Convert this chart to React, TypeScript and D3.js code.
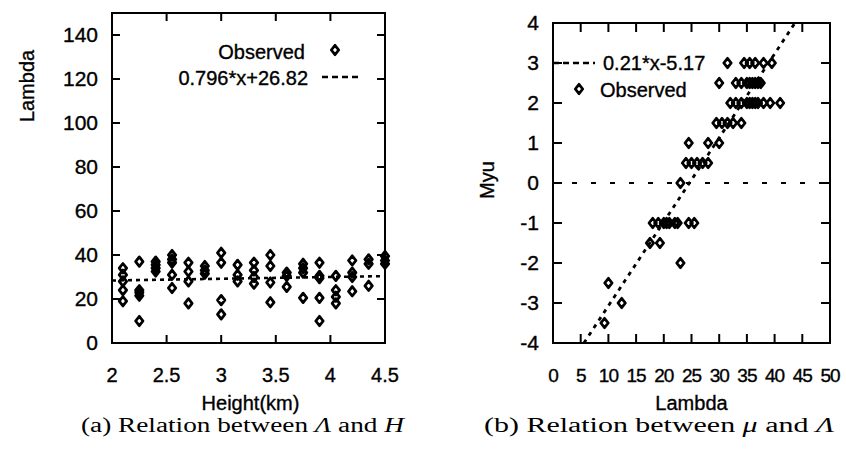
import React from 'react';
import * as d3 from 'd3';

// ---------- Panel (a): Lambda vs Height ----------
const heightsA = [2.1, 2.25, 2.4, 2.55, 2.7, 2.85, 3.0, 3.15, 3.3, 3.45, 3.6, 3.75, 3.9, 4.05, 4.2, 4.35, 4.5];
const lambdaAtHeight = [
  [34, 31, 28, 24, 19],
  [37, 24, 23, 21.5, 10],
  [37, 35.5, 34, 32.5],
  [40, 38, 36.5, 31, 25],
  [36.5, 32.5, 28, 18],
  [35, 33, 31.5],
  [41, 36.5, 19.5, 13],
  [35.5, 31, 28],
  [36.5, 33, 30, 27],
  [40, 35, 27.5, 18.5],
  [32, 30.5, 25.5],
  [36, 34, 32, 20.5],
  [36.5, 30.5, 29.5, 20.5, 10],
  [30.5, 24, 21, 18],
  [37.5, 32, 30, 23.5],
  [38, 36, 26],
  [39.5, 37.5, 36],
];
const fitA = { slope: 0.796, intercept: 26.82, label: '0.796*x+26.82' };
const xTicksA = [2, 2.5, 3, 3.5, 4, 4.5];
const xTickLabelsA = ['2', '2.5', '3', '3.5', '4', '4.5'];
const yTicksA = [0, 20, 40, 60, 80, 100, 120, 140];

// ---------- Panel (b): Myu vs Lambda ----------
const muLevels = [3, 2.5, 2, 1.5, 1, 0.5, 0, -1, -1.5, -2, -2.5, -3, -3.5];
const lambdaAtMu = [
  [31.5, 34.5, 35.5, 36.5, 38, 39.5],
  [30, 33, 34, 35, 35.5, 36, 36.5, 37, 37.5],
  [32, 33, 34, 35, 35.5, 36, 36.5, 37, 38, 39.2, 41],
  [29.5, 30.5, 31.5, 32.5, 34],
  [24.5, 28, 30],
  [24, 25, 26, 27, 28],
  [23],
  [18, 19, 20, 20.5, 21, 22, 22.5, 24.5, 25.5],
  [17.5, 19.3],
  [23],
  [10],
  [12.4],
  [9.3],
];
const fitB = { slope: 0.21, intercept: -5.17, label: '0.21*x-5.17' };
const xTicksB = [0, 5, 10, 15, 20, 25, 30, 35, 40, 45, 50];
const yTicksB = [-4, -3, -2, -1, 0, 1, 2, 3, 4];

const FONT = '"Liberation Sans", Arial, Helvetica, sans-serif';
const SERIF = '"Liberation Serif", "DejaVu Serif", serif';

function Diamond({ x, y }: { x: number; y: number }) {
  const w = 3.7, h = 4.7;
  return (
    <path
      d={`M${x},${y - h}L${x + w},${y}L${x},${y + h}L${x - w},${y}Z`}
      fill="none"
      stroke="#000"
      strokeWidth={2.8}
      strokeLinejoin="round"
    />
  );
}

export default function App() {
  const xA = d3.scaleLinear().domain([2, 4.5]).range([112, 385]);
  const yA = d3.scaleLinear().domain([0, 150]).range([343, 13]);
  const xB = d3.scaleLinear().domain([0, 50]).range([553, 830]);
  const yB = d3.scaleLinear().domain([-4, 4]).range([343, 23]);

  const lineA = d3.line<number>().x((d) => xA(d)).y((d) => yA(fitA.slope * d + fitA.intercept));
  const lamLo = (-4 - fitB.intercept) / fitB.slope;
  const lamHi = (4 - fitB.intercept) / fitB.slope;
  const lineB = d3.line<number>().x((d) => xB(d)).y((d) => yB(fitB.slope * d + fitB.intercept));

  const tickA = 8;
  const tickB = 9;
  const txt = { fontFamily: FONT, fill: '#000', stroke: '#000', strokeWidth: 0.35 } as const;

  return (
    <svg width={846} height={453} style={{ position: 'absolute', left: 0, top: 0, background: '#fff' }}>
      <rect x={0} y={0} width={846} height={453} fill="#fff" />
      {/* ===== Panel A ===== */}
      <g>
        <path d={lineA([2, 4.5]) || ''} fill="none" stroke="#000" strokeWidth={2.6} strokeDasharray="4 4" />
        {heightsA.map((h, i) =>
          lambdaAtHeight[i].map((v, j) => <Diamond key={`a${i}-${j}`} x={xA(h)} y={yA(v)} />)
        )}
        <rect x={xA(2)} y={yA(150)} width={xA(4.5) - xA(2)} height={yA(0) - yA(150)} fill="none" stroke="#000" strokeWidth={2} />
        {xTicksA.map((t, i) => (
          <g key={`xa${i}`}>
            <line x1={xA(t)} x2={xA(t)} y1={yA(0)} y2={yA(0) - tickA} stroke="#000" strokeWidth={2} />
            <line x1={xA(t)} x2={xA(t)} y1={yA(150)} y2={yA(150) + tickA} stroke="#000" strokeWidth={2} />
            <text x={xA(t)} y={375} dy="0.35em" textAnchor="middle" fontSize={20} {...txt}>
              {xTickLabelsA[i]}
            </text>
          </g>
        ))}
        {yTicksA.map((t) => (
          <g key={`ya${t}`}>
            <line x1={xA(2)} x2={xA(2) + tickA} y1={yA(t)} y2={yA(t)} stroke="#000" strokeWidth={2} />
            <line x1={xA(4.5)} x2={xA(4.5) - tickA} y1={yA(t)} y2={yA(t)} stroke="#000" strokeWidth={2} />
            <text x={98} y={yA(t)} dy="0.35em" textAnchor="end" fontSize={21} {...txt}>
              {t}
            </text>
          </g>
        ))}
        <text x={(xA(2) + xA(4.5)) / 2 + 2} y={403} dy="0.35em" textAnchor="middle" fontSize={20} {...txt}>
          Height(km)
        </text>
        <text transform="translate(27,86) rotate(-90)" dy="0.35em" textAnchor="middle" fontSize={20} {...txt}>
          Lambda
        </text>
        <text x={305} y={52} dy="0.35em" textAnchor="end" fontSize={20} {...txt}>
          Observed
        </text>
        <Diamond x={335} y={50} />
        <text x={308} y={78} dy="0.35em" textAnchor="end" fontSize={20} {...txt}>
          {fitA.label}
        </text>
        <line x1={322} x2={362} y1={77} y2={77} stroke="#000" strokeWidth={2.6} strokeDasharray="6 4" />
        <text x={81} y={425} dy="0.35em" fontFamily={SERIF} fontSize={20} textLength={323} lengthAdjust="spacingAndGlyphs">
          (a) Relation between <tspan fontStyle="italic">Λ</tspan> and <tspan fontStyle="italic">H</tspan>
        </text>
      </g>

      {/* ===== Panel B ===== */}
      <g>
        <line x1={xB(0)} x2={xB(50)} y1={yB(0)} y2={yB(0)} stroke="#000" strokeWidth={2} strokeDasharray="5 14" />
        <path d={lineB([lamLo, lamHi]) || ''} fill="none" stroke="#000" strokeWidth={2.8} strokeDasharray="4 5" />
        {muLevels.map((m, i) =>
          lambdaAtMu[i].map((v, j) => <Diamond key={`b${i}-${j}`} x={xB(v)} y={yB(m)} />)
        )}
        <rect x={xB(0)} y={yB(4)} width={xB(50) - xB(0)} height={yB(-4) - yB(4)} fill="none" stroke="#000" strokeWidth={2} />
        {xTicksB.map((t) => (
          <g key={`xb${t}`}>
            <line x1={xB(t)} x2={xB(t)} y1={yB(-4)} y2={yB(-4) - tickB} stroke="#000" strokeWidth={2} />
            <line x1={xB(t)} x2={xB(t)} y1={yB(4)} y2={yB(4) + tickB} stroke="#000" strokeWidth={2} />
            <text x={xB(t)} y={375} dy="0.35em" textAnchor="middle" fontSize={19} letterSpacing={-1} {...txt}>
              {t}
            </text>
          </g>
        ))}
        {yTicksB.map((t) => (
          <g key={`yb${t}`}>
            <line x1={xB(0)} x2={xB(0) + tickB} y1={yB(t)} y2={yB(t)} stroke="#000" strokeWidth={2} />
            <line x1={xB(50)} x2={xB(50) - tickB} y1={yB(t)} y2={yB(t)} stroke="#000" strokeWidth={2} />
            <text x={539} y={yB(t)} dy="0.35em" textAnchor="end" fontSize={21} {...txt}>
              {t}
            </text>
          </g>
        ))}
        <text x={(xB(0) + xB(50)) / 2} y={403} dy="0.35em" textAnchor="middle" fontSize={20} {...txt}>
          Lambda
        </text>
        <text transform="translate(487,180) rotate(-90)" dy="0.35em" textAnchor="middle" fontSize={20} {...txt}>
          Myu
        </text>
        <line x1={xB(0)} x2={595} y1={63} y2={63} stroke="#000" strokeWidth={2.6} strokeDasharray="6 4" />
        <text x={603} y={63} dy="0.35em" fontSize={20} {...txt}>
          {fitB.label}
        </text>
        <Diamond x={579} y={89} />
        <text x={600} y={90} dy="0.35em" fontSize={20} {...txt}>
          Observed
        </text>
        <text x={484} y={425} dy="0.35em" fontFamily={SERIF} fontSize={20} textLength={350} lengthAdjust="spacingAndGlyphs">
          (b) Relation between <tspan fontStyle="italic">μ</tspan> and <tspan fontStyle="italic">Λ</tspan>
        </text>
      </g>
    </svg>
  );
}
